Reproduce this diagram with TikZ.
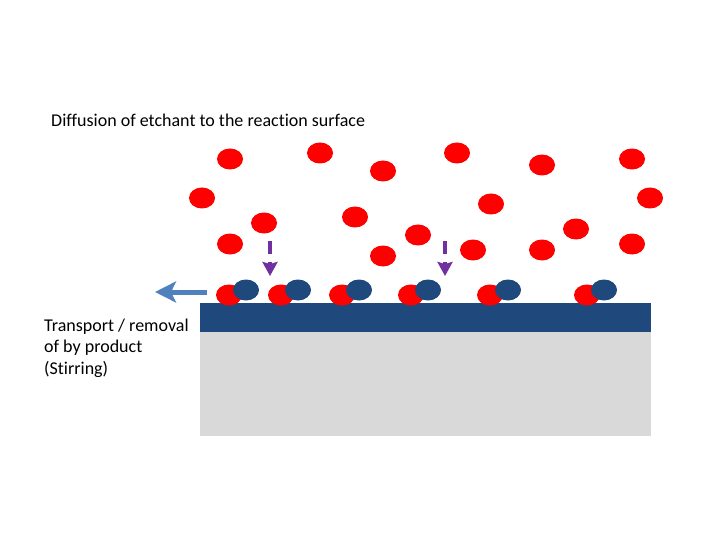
\documentclass[tikz,border=0pt]{standalone}
\usepackage{xcolor}
\usepackage{fontspec}
\setmainfont[Ligatures=NoCommon]{Carlito}
\usetikzlibrary{shapes.geometric,arrows.meta}
\definecolor{etchred}{RGB}{255,0,0}
\definecolor{filmblue}{RGB}{31,73,125}
\definecolor{subgray}{RGB}{217,217,217}
\definecolor{flowblue}{RGB}{79,129,189}
\definecolor{dropviolet}{RGB}{112,48,160}
\tikzset{
    etch/.style={ellipse, fill=etchred, inner sep=0pt, minimum width=26pt, minimum height=21pt},
    prod/.style={ellipse, fill=filmblue, inner sep=0pt, minimum width=26pt, minimum height=21pt},
    lbl/.style={inner sep=0pt, font=\fontsize{18}{21.5}\selectfont, align=left},
    drop/.style={dropviolet, line width=4pt, dash pattern=on 13pt off 8pt, -{Stealth[length=14pt, width=15pt, inset=2pt]}},
    flow/.style={flowblue, line width=5pt, -{Stealth[length=21pt, width=21pt, inset=5pt]}}
}
\begin{document}
\begin{tikzpicture}[x=1pt, y=-1pt]
        \useasboundingbox (0, 0) rectangle (720, 540);
        \node (film) at (425.5, 317.5) [rectangle, fill=filmblue, inner sep=0pt, minimum width=451pt, minimum height=29pt] {};
        \node (sub) at (425.5, 384) [rectangle, fill=subgray, inner sep=0pt, minimum width=451pt, minimum height=104pt] {};
        \node (title) at (51, 120.5) [lbl, anchor=west] {Diffusion of etchant to the reaction surface};
        \node (note) at (44, 348) [lbl, anchor=west] {Transport / removal\\of by product\\(Stirring)};
        \node (1) at (230, 159) [etch] {};
        \node (2) at (320, 153) [etch] {};
        \node (3) at (383, 171) [etch] {};
        \node (4) at (457, 153) [etch] {};
        \node (5) at (542, 165) [etch] {};
        \node (6) at (632, 159) [etch] {};
        \node (7) at (202, 198) [etch] {};
        \node (8) at (650, 198) [etch] {};
        \node (9) at (491, 204) [etch] {};
        \node (10) at (355, 217) [etch] {};
        \node (11) at (264, 223) [etch] {};
        \node (12) at (418, 235) [etch] {};
        \node (13) at (576, 229) [etch] {};
        \node (14) at (230, 244) [etch] {};
        \node (15) at (383, 256) [etch] {};
        \node (16) at (473, 250) [etch] {};
        \node (17) at (542, 250) [etch] {};
        \node (18) at (632, 244) [etch] {};
        \node (19) at (229, 295) [etch] {};
        \node (20) at (281, 295) [etch] {};
        \node (21) at (342, 295) [etch] {};
        \node (22) at (411, 295) [etch] {};
        \node (23) at (490, 295) [etch] {};
        \node (24) at (587, 295) [etch] {};
        \node (25) at (246, 290) [prod] {};
        \node (26) at (298, 290) [prod] {};
        \node (27) at (359, 290) [prod] {};
        \node (28) at (428, 290) [prod] {};
        \node (29) at (508, 290) [prod] {};
        \node (30) at (604, 290) [prod] {};
        \coordinate (d1) at (270, 241);
        \coordinate (e1) at (270, 276);
        \coordinate (d2) at (445, 241);
        \coordinate (e2) at (445, 276);
        \coordinate (f1) at (207, 292);
        \coordinate (f2) at (155, 292);
        \draw [drop] (d1) -- (e1);
        \draw [drop] (d2) -- (e2);
        \draw [flow] (f1) -- (f2);
    \end{tikzpicture}
\end{document}
